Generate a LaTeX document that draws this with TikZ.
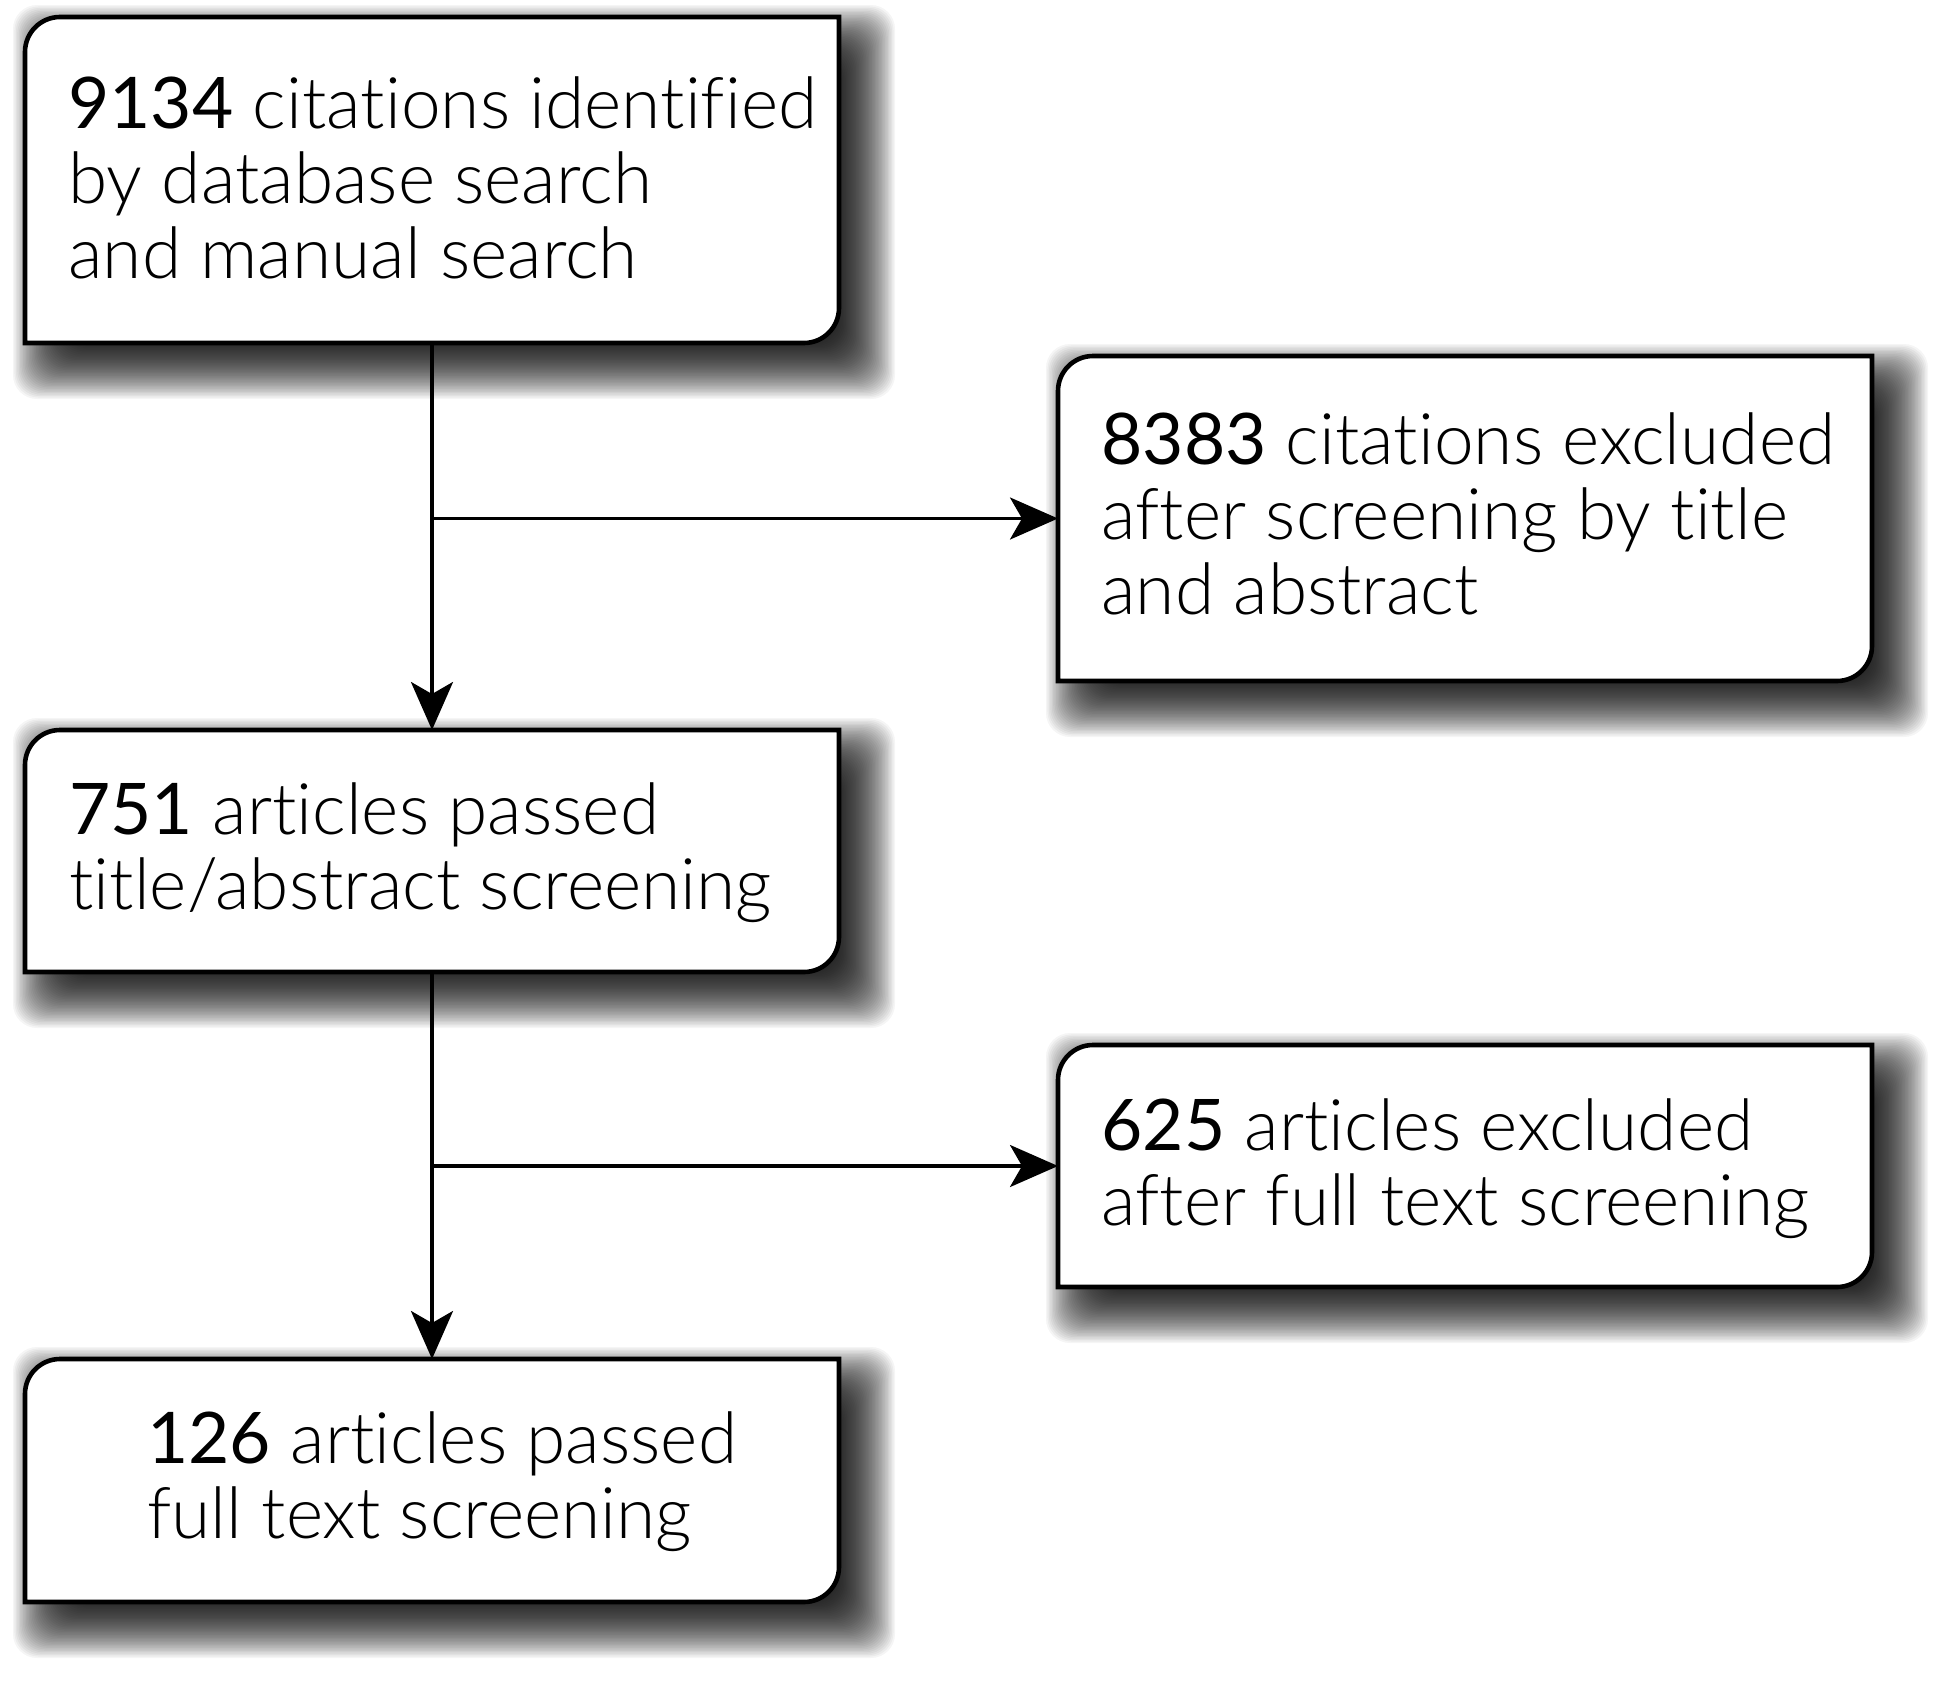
\documentclass[tikz,border=0pt]{standalone}
\usepackage{fontspec}
\setmainfont{Lato Light}[Ligatures=NoCommon]
\newfontfamily\numfont{Lato}[Ligatures=NoCommon]
\usetikzlibrary{arrows.meta}
\begin{document}
\begin{tikzpicture}[x=0.5pt,y=0.5pt,
  boxframe/.style={draw=black, line width=2.3pt, fill=white, line join=miter},
  shadowlayer/.style={fill=black, opacity=0.038, rounded corners=12pt},
  slot/.style={inner sep=0pt, outer sep=0pt, draw=none, minimum width=407pt},
  boxtext/.style={anchor=base west, inner sep=0pt, align=left, font=\fontsize{35.6pt}{37.5pt}\selectfont},
  conn/.style={draw=black, line width=1.75pt, -{Stealth[length=24pt,width=21pt,inset=6pt,fill=black]}}
]
\useasboundingbox (0,0) rectangle (1950,-1681);
\fill[white] (0,0) rectangle (1950,-1681);
\node[slot, minimum height=163pt] (b1) at (432,-180) {};
\node[slot, minimum height=162.5pt] (b2) at (1465,-518.5) {};
\node[slot, minimum height=121pt] (b3) at (432,-851) {};
\node[slot, minimum height=121pt] (b4) at (1465,-1166) {};
\node[slot, minimum height=121.5pt] (b5) at (432,-1480.5) {};
% soft drop shadows
\foreach \n in {b1,b2,b3,b4,b5}{
  \foreach \k in {0,...,47}{
    \pgfmathsetmacro\e{17-34*\k/47}
    \pgfmathsetmacro\sa{11-\e}
    \pgfmathsetmacro\sb{-11-\e}
    \pgfmathsetmacro\sc{11+\e}
    \pgfmathsetmacro\sd{-11+\e}
    \fill[shadowlayer] ([shift={(\sa pt,\sb pt)}]\n.south west) rectangle ([shift={(\sc pt,\sd pt)}]\n.north east);
  }
}
\foreach \n in {b1,b2,b3,b4,b5}
  \draw[boxframe] (\n.south west) -- ([yshift=-17.5pt]\n.north west)
     arc[start angle=180,end angle=90,radius=35] -- (\n.north east)
     -- ([yshift=17.5pt]\n.south east) arc[start angle=0,end angle=-90,radius=35] -- cycle;
\node[boxtext] (t1) at (68,-278) {{\numfont 9134} citations identified\\by database search\\and manual search};
\node[boxtext] (t2) at (1101,-614) {{\numfont 8383} citations excluded\\after screening by title\\and abstract};
\node[boxtext] (t3) at (69,-909) {{\numfont 751} articles passed\\title/abstract screening};
\node[boxtext] (t4) at (1101,-1225) {{\numfont 625} articles excluded\\after full text screening};
\node[boxtext] (t5) at (147,-1538) {{\numfont 126} articles passed\\full text screening};
\coordinate (j1) at (b1.south |- b2.west);
\coordinate (j2) at (b3.south |- b4.west);
\draw[conn] (b1.south) -- (b3.north);
\draw[conn] (j1) -- (b2.west);
\draw[conn] (b3.south) -- (b5.north);
\draw[conn] (j2) -- (b4.west);
\end{tikzpicture}
\end{document}
